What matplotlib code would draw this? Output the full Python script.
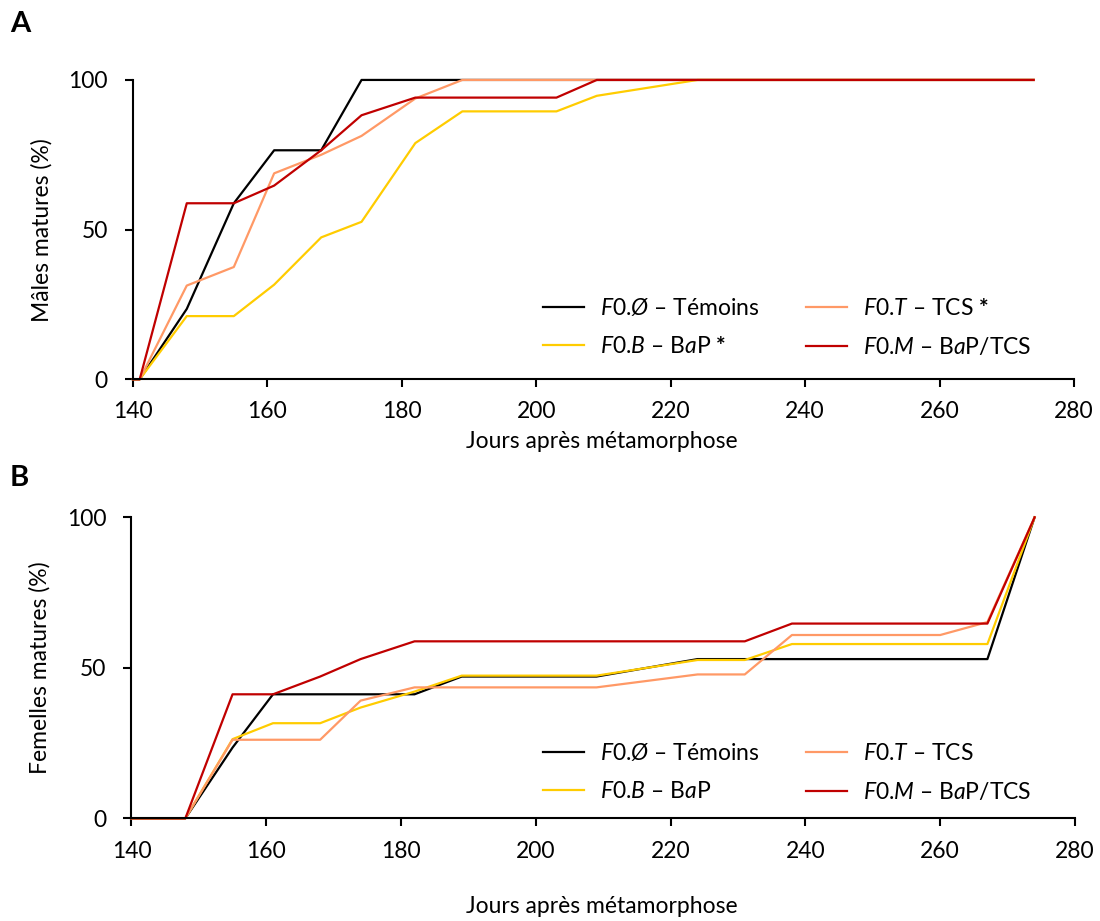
import matplotlib
matplotlib.use('Agg')
import matplotlib.pyplot as plt

plt.rcParams['font.family'] = ['Lato', 'DejaVu Sans']
plt.rcParams['mathtext.fontset'] = 'custom'
plt.rcParams['mathtext.rm'] = 'Lato'
plt.rcParams['mathtext.it'] = 'Lato:italic'
plt.rcParams['mathtext.bf'] = 'Lato:bold'

# Panel A - males
days_A = [140, 141, 148, 155, 161, 168, 174, 182, 189, 203, 209, 224, 274]
temoins_A = [0, 0, 23.5, 58.8, 76.5, 76.5, 100, 100, 100, 100, 100, 100, 100]
bap_A = [0, 0, 21.1, 21.1, 31.6, 47.4, 52.6, 78.9, 89.5, 89.5, 94.7, 100, 100]
tcs_A = [0, 0, 31.3, 37.5, 68.8, 75.0, 81.3, 93.8, 100, 100, 100, 100, 100]
baptcs_A = [0, 0, 58.8, 58.8, 64.7, 76.5, 88.2, 94.1, 94.1, 94.1, 100, 100, 100]

# Panel B - females
days_B = [140, 148, 155, 161, 168, 174, 182, 189, 209, 224, 231, 238, 260, 267, 274]
temoins_B = [0, 0, 23.5, 41.2, 41.2, 41.2, 41.2, 47.1, 47.1, 52.9, 52.9, 52.9, 52.9, 52.9, 100]
bap_B = [0, 0, 26.3, 31.6, 31.6, 36.8, 42.1, 47.4, 47.4, 52.6, 52.6, 57.9, 57.9, 57.9, 100]
tcs_B = [0, 0, 26.1, 26.1, 26.1, 39.1, 43.5, 43.5, 43.5, 47.8, 47.8, 60.9, 60.9, 65.2, 100]
baptcs_B = [0, 0, 41.2, 41.2, 47.1, 52.9, 58.8, 58.8, 58.8, 58.8, 58.8, 64.7, 64.7, 64.7, 100]

colors = ['#000000', '#FFCC00', '#FF9966', '#C00000']

labels_A = [r'$\mathit{F0}$.$\mathit{Ø}$ – Témoins',
            r'$\mathit{F0}$.$\mathit{B}$ – B$\mathit{a}$P $\mathbf{*}$',
            r'$\mathit{F0}$.$\mathit{T}$ – TCS $\mathbf{*}$',
            r'$\mathit{F0}$.$\mathit{M}$ – B$\mathit{a}$P/TCS']
labels_B = [r'$\mathit{F0}$.$\mathit{Ø}$ – Témoins',
            r'$\mathit{F0}$.$\mathit{B}$ – B$\mathit{a}$P',
            r'$\mathit{F0}$.$\mathit{T}$ – TCS',
            r'$\mathit{F0}$.$\mathit{M}$ – B$\mathit{a}$P/TCS']

fs = 16.5
fig = plt.figure(figsize=(11, 9.21), dpi=100)
axA = fig.add_axes([0.1209, 0.5882, 0.8555, 0.325])
axB = fig.add_axes([0.1195, 0.1115, 0.8578, 0.3268])


def style(ax):
    ax.set_xlim(140, 280)
    ax.set_ylim(0, 100)
    ax.set_xticks(range(140, 281, 20))
    ax.set_yticks([0, 50, 100])
    for s in ['top', 'right']:
        ax.spines[s].set_visible(False)
    for s in ['left', 'bottom']:
        ax.spines[s].set_linewidth(1.5)
    ax.tick_params(direction='out', length=6, width=1.5, labelsize=fs)
    ax.tick_params(axis='x', pad=10)
    ax.tick_params(axis='y', pad=12)


series_A = [temoins_A, bap_A, tcs_A, baptcs_A]
series_B = [temoins_B, bap_B, tcs_B, baptcs_B]

for vals, c, lab in zip(series_A, colors, labels_A):
    axA.plot(days_A, vals, color=c, lw=1.6, label=lab, clip_on=False)
for vals, c, lab in zip(series_B, colors, labels_B):
    axB.plot(days_B, vals, color=c, lw=1.6, label=lab, clip_on=False)

style(axA)
style(axB)

leg_kw = dict(ncol=2, frameon=False, fontsize=fs, loc='upper left',
              handlelength=1.8, handletextpad=0.7, columnspacing=2.0,
              labelspacing=0.75, borderpad=0, borderaxespad=0,
              bbox_transform=fig.transFigure)
axA.legend(bbox_to_anchor=(543 / 1100, 1 - 297 / 921), **leg_kw)
axB.legend(bbox_to_anchor=(543 / 1100, 1 - 742 / 921), **leg_kw)

fig.text(602 / 1100, 1 - 441 / 921, 'Jours après métamorphose', fontsize=fs,
         ha='center', va='center')
fig.text(602 / 1100, 1 - 906 / 921, 'Jours après métamorphose', fontsize=fs,
         ha='center', va='center')
fig.text(42 / 1100, 1 - 230 / 921, 'Mâles matures (%)', fontsize=fs,
         ha='center', va='center', rotation=90)
fig.text(40 / 1100, 1 - 668 / 921, 'Femelles matures (%)', fontsize=fs,
         ha='center', va='center', rotation=90)

fig.text(10 / 1100, 1 - 24 / 921, 'A', fontsize=21, fontweight='bold',
         va='center')
fig.text(10 / 1100, 1 - 478 / 921, 'B', fontsize=21, fontweight='bold',
         va='center')

fig.savefig('out.png', dpi=100)
